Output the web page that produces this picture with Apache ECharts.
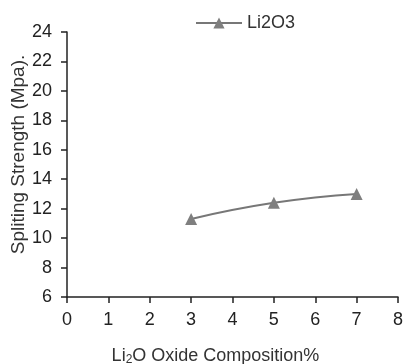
<!DOCTYPE html>
<html>
<head>
<meta charset="utf-8">
<script src="https://cdn.jsdelivr.net/npm/echarts@6/dist/echarts.min.js"></script>
<style>
  html, body { margin: 0; padding: 0; background: #fff; }
  #chart { width: 403px; height: 364px; }
</style>
</head>
<body>
<div id="chart"></div>
<script>
// Li2O content (%) vs splitting strength
var composition = [3, 5, 7];
var strength = [11.3, 12.4, 13.0];
var seriesName = 'Li2O3';

var myChart = echarts.init(document.getElementById('chart'));
var fontFam = 'Liberation Sans, Arial, sans-serif';
var option = {
    backgroundColor: '#fff',
    animation: false,
    legend: {
        data: [seriesName],
        left: 190,
        top: 9,
        itemWidth: 46,
        itemHeight: 14,
        itemGap: 6,
        textStyle: { fontFamily: fontFam, fontSize: 18, color: '#333' }
    },
    grid: {
        left: 67,
        right: 5,
        top: 32,
        bottom: 67,
        containLabel: false,
        outerBoundsMode: 'none'
    },
    xAxis: {
        type: 'value',
        min: 0,
        max: 8,
        interval: 1,
        splitLine: { show: false },
        axisLine: { lineStyle: { color: '#222', width: 1.5 } },
        axisTick: { show: true, length: 6, lineStyle: { color: '#222', width: 1.5 } },
        axisLabel: { fontFamily: fontFam, fontSize: 18, color: '#222', margin: 14 },
        name: '{a|Li}{s|2}{a|O Oxide Composition%}',
        nameLocation: 'middle',
        nameGap: 49,
        nameMoveOverlap: false,
        nameTextStyle: {
            padding: [0, 34, 0, 0],
            rich: {
                a: { fontFamily: fontFam, fontSize: 18, color: '#333' },
                s: { fontFamily: fontFam, fontSize: 12, color: '#333', padding: [8, 0, 0, 0] }
            }
        }
    },
    yAxis: {
        type: 'value',
        min: 6,
        max: 24,
        interval: 2,
        splitLine: { show: false },
        axisLine: { show: true, lineStyle: { color: '#222', width: 1.5 } },
        axisTick: { show: true, length: 6, lineStyle: { color: '#222', width: 1.5 } },
        axisLabel: { fontFamily: fontFam, fontSize: 18, color: '#222', margin: 15 },
        name: 'Spliting Strength (Mpa).',
        nameLocation: 'middle',
        nameGap: 39,
        nameMoveOverlap: false,
        nameTextStyle: { fontFamily: fontFam, fontSize: 19, color: '#333', padding: [0, 0, 0, 20] }
    },
    series: [
        {
            name: seriesName,
            type: 'line',
            smooth: true,
            data: composition.map(function (x, i) { return [x, strength[i]]; }),
            symbol: 'triangle',
            symbolSize: 12,
            itemStyle: { color: '#7f7f7f' },
            lineStyle: { color: '#777', width: 2 }
        }
    ]
};
myChart.setOption(option);
</script>
</body>
</html>
